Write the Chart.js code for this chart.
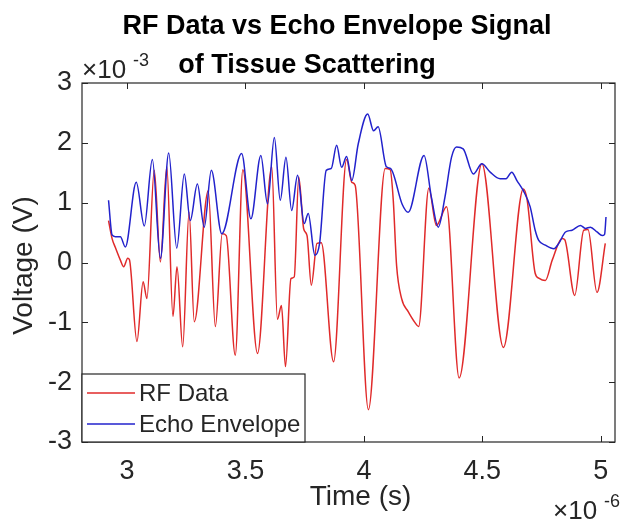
<!DOCTYPE html>
<html>
<head>
<meta charset="utf-8">
<script src="https://cdn.jsdelivr.net/npm/chart.js@4/dist/chart.umd.min.js"></script>
<style>
  html, body { margin: 0; padding: 0; background: #ffffff; }
  #wrap { width: 625px; height: 522px; position: relative; }
</style>
</head>
<body>
<div id="wrap"><canvas id="c" width="625" height="522"></canvas></div>
<script>
// Time in units of 1e-6 s, voltage in units of 1e-3 V (axes show x10^-6 and x10^-3)
const timeRF = [2.922,2.937,2.951,2.972,2.986,3.003,3.010,3.042,3.068,3.084,3.115,3.141,3.168,3.194,3.211,3.235,3.262,3.284,3.343,3.373,3.402,3.419,3.457,3.489,3.551,3.611,3.635,3.652,3.669,3.692,3.706,3.725,3.746,3.760,3.778,3.802,3.820,3.872,3.927,3.949,3.963,4.019,4.090,4.111,4.124,4.138,4.159,4.187,4.215,4.231,4.274,4.306,4.349,4.402,4.498,4.589,4.673,4.689,4.723,4.738,4.766,4.795,4.837,4.848,4.890,4.928,4.946,4.984,5.019];
const rfData = [0.70,0.40,0.25,0.04,-0.07,0.07,0.05,-1.32,-0.32,-0.60,1.54,0.01,1.60,-0.90,-0.07,-1.41,0.84,-0.99,1.20,-1.07,0.48,0.45,-1.55,1.55,-1.52,1.60,-0.95,-0.72,-1.74,-0.27,-0.24,1.43,0.56,0.45,-0.38,0.32,0.33,-1.66,1.72,1.34,1.29,-2.46,1.57,1.55,1.04,-0.05,-0.60,-0.82,-1.00,-1.07,1.24,0.62,0.93,-1.93,1.65,-1.42,1.23,1.05,-0.18,-0.26,-0.30,0.04,0.40,0.38,-0.55,0.54,0.55,-0.50,0.32];

const timeEnv = [2.922,2.937,2.951,2.972,2.993,3.039,3.073,3.107,3.141,3.176,3.210,3.242,3.267,3.297,3.326,3.356,3.400,3.484,3.523,3.565,3.593,3.622,3.647,3.671,3.695,3.720,3.748,3.765,3.793,3.813,3.841,3.862,3.885,3.906,3.927,3.949,3.976,4.016,4.041,4.060,4.095,4.113,4.162,4.187,4.254,4.285,4.314,4.342,4.370,4.391,4.419,4.462,4.498,4.533,4.575,4.600,4.624,4.646,4.673,4.702,4.723,4.738,4.766,4.802,4.823,4.851,4.879,4.914,4.935,4.956,4.984,5.006,5.016,5.022];
const envData = [1.04,0.46,0.43,0.43,0.26,1.34,0.61,1.72,0.07,1.83,0.24,1.48,0.70,1.31,0.59,1.54,0.48,1.82,0.73,1.79,0.98,2.09,1.04,1.76,0.87,1.46,0.65,0.82,0.12,0.32,1.54,1.57,1.96,1.59,1.77,1.37,1.98,2.48,2.20,2.27,1.60,1.57,0.97,0.84,1.79,1.09,0.59,1.09,1.76,1.93,1.90,1.48,1.65,1.51,1.40,1.40,1.51,1.37,1.20,0.93,0.54,0.37,0.29,0.23,0.32,0.51,0.54,0.62,0.57,0.59,0.51,0.45,0.47,0.76];

const xTicks = [3, 3.5, 4, 4.5, 5];
const yTicks = [-3, -2, -1, 0, 1, 2, 3];
const xRange = [2.81, 5.06];
const yRange = [-3, 3];

const titleLines = ['RF Data vs Echo Envelope Signal', 'of Tissue Scattering'];
const xLabel = 'Time (s)';
const yLabel = 'Voltage (V)';
const seriesNames = ['RF Data', 'Echo Envelope'];

const AX = '#262626';
const FONT = '"Liberation Sans", Arial, Helvetica, sans-serif';

const toPts = (xs, ys) => xs.map((x, i) => ({ x: x, y: ys[i] }));

const decor = {
  id: 'decor',
  afterDatasetsDraw(chart) {
    const ctx = chart.ctx;
    const a = chart.chartArea;
    const xs = chart.scales.x, ys = chart.scales.y;
    ctx.save();
    // tick marks (inward, all four sides)
    ctx.strokeStyle = AX;
    ctx.lineWidth = 1;
    const tl = 6;
    xTicks.forEach(v => {
      const px = Math.round(xs.getPixelForValue(v)) + 0.5;
      ctx.beginPath();
      ctx.moveTo(px, a.bottom); ctx.lineTo(px, a.bottom - tl);
      ctx.moveTo(px, a.top); ctx.lineTo(px, a.top + tl);
      ctx.stroke();
    });
    yTicks.forEach(v => {
      const py = Math.round(ys.getPixelForValue(v)) + 0.5;
      ctx.beginPath();
      ctx.moveTo(a.left, py); ctx.lineTo(a.left + tl, py);
      ctx.moveTo(a.right, py); ctx.lineTo(a.right - tl, py);
      ctx.stroke();
    });
    // box
    ctx.lineWidth = 1.2;
    ctx.strokeRect(a.left, a.top, a.right - a.left, a.bottom - a.top);

    // legend (lower-left, inside axes)
    const lx = a.left, lw = 223, lh = 68, ly = a.bottom - lh;
    ctx.fillStyle = '#ffffff';
    ctx.fillRect(lx, ly, lw, lh);
    ctx.strokeStyle = AX;
    ctx.lineWidth = 1.2;
    ctx.strokeRect(lx, ly, lw, lh);
    ctx.font = '24px ' + FONT;
    ctx.textBaseline = 'middle';
    ctx.textAlign = 'left';
    chart.data.datasets.forEach((ds, i) => {
      const yy = ly + 19 + i * 31;
      ctx.strokeStyle = ds.borderColor;
      ctx.lineWidth = 1.5;
      ctx.beginPath();
      ctx.moveTo(lx + 5, yy); ctx.lineTo(lx + 53, yy);
      ctx.stroke();
      ctx.fillStyle = AX;
      ctx.fillText(ds.label, lx + 57, yy + 1);
    });

    // title
    ctx.fillStyle = '#000000';
    ctx.font = 'bold 27px ' + FONT;
    ctx.textAlign = 'center';
    ctx.textBaseline = 'alphabetic';
    ctx.fillText(titleLines[0], 337, 34);
    ctx.fillText(titleLines[1], 307, 73);

    // axis labels
    ctx.fillStyle = AX;
    ctx.font = '28px ' + FONT;
    ctx.fillText(xLabel, (a.left + a.right) / 2 + 12, 505);
    ctx.save();
    ctx.translate(32, (a.top + a.bottom) / 2 + 3);
    ctx.rotate(-Math.PI / 2);
    ctx.fillText(yLabel, 0, 0);
    ctx.restore();

    // exponent multipliers
    ctx.textAlign = 'left';
    ctx.font = '26px ' + FONT;
    ctx.fillText('\u00d710', 82, 78);
    ctx.font = '18px ' + FONT;
    ctx.fillText('-3', 133, 66);
    ctx.font = '26px ' + FONT;
    ctx.fillText('\u00d710', 553, 519);
    ctx.font = '18px ' + FONT;
    ctx.fillText('-6', 604, 507);
    ctx.restore();
  }
};

new Chart(document.getElementById('c'), {
  type: 'line',
  data: {
    datasets: [
      { label: seriesNames[0], data: toPts(timeRF, rfData), borderColor: '#e02a2a', borderWidth: 1.5,
        pointRadius: 0, cubicInterpolationMode: 'monotone', fill: false, order: 1 },
      { label: seriesNames[1], data: toPts(timeEnv, envData), borderColor: '#2222cc', borderWidth: 1.5,
        pointRadius: 0, cubicInterpolationMode: 'monotone', fill: false, order: 0 }
    ]
  },
  options: {
    responsive: false,
    animation: false,
    events: [],
    layout: { padding: { left: 0, right: 10, top: 83, bottom: 0 } },
    plugins: { legend: { display: false }, title: { display: false }, tooltip: { enabled: false } },
    scales: {
      x: {
        type: 'linear', min: xRange[0], max: xRange[1],
        afterFit: s => { s.height = 80; },
        afterBuildTicks: s => { s.ticks = xTicks.map(v => ({ value: v })); },
        grid: { display: false, drawTicks: false },
        border: { display: false },
        ticks: { color: AX, font: { family: FONT, size: 27 }, padding: 13, maxRotation: 0,
                 callback: v => String(v) }
      },
      y: {
        type: 'linear', min: yRange[0], max: yRange[1],
        afterFit: s => { s.width = 82; },
        afterBuildTicks: s => { s.ticks = yTicks.map(v => ({ value: v })); },
        grid: { display: false, drawTicks: false },
        border: { display: false },
        ticks: { color: AX, font: { family: FONT, size: 27 }, padding: 10,
                 callback: v => String(v) }
      }
    }
  },
  plugins: [decor]
});
</script>
</body>
</html>
